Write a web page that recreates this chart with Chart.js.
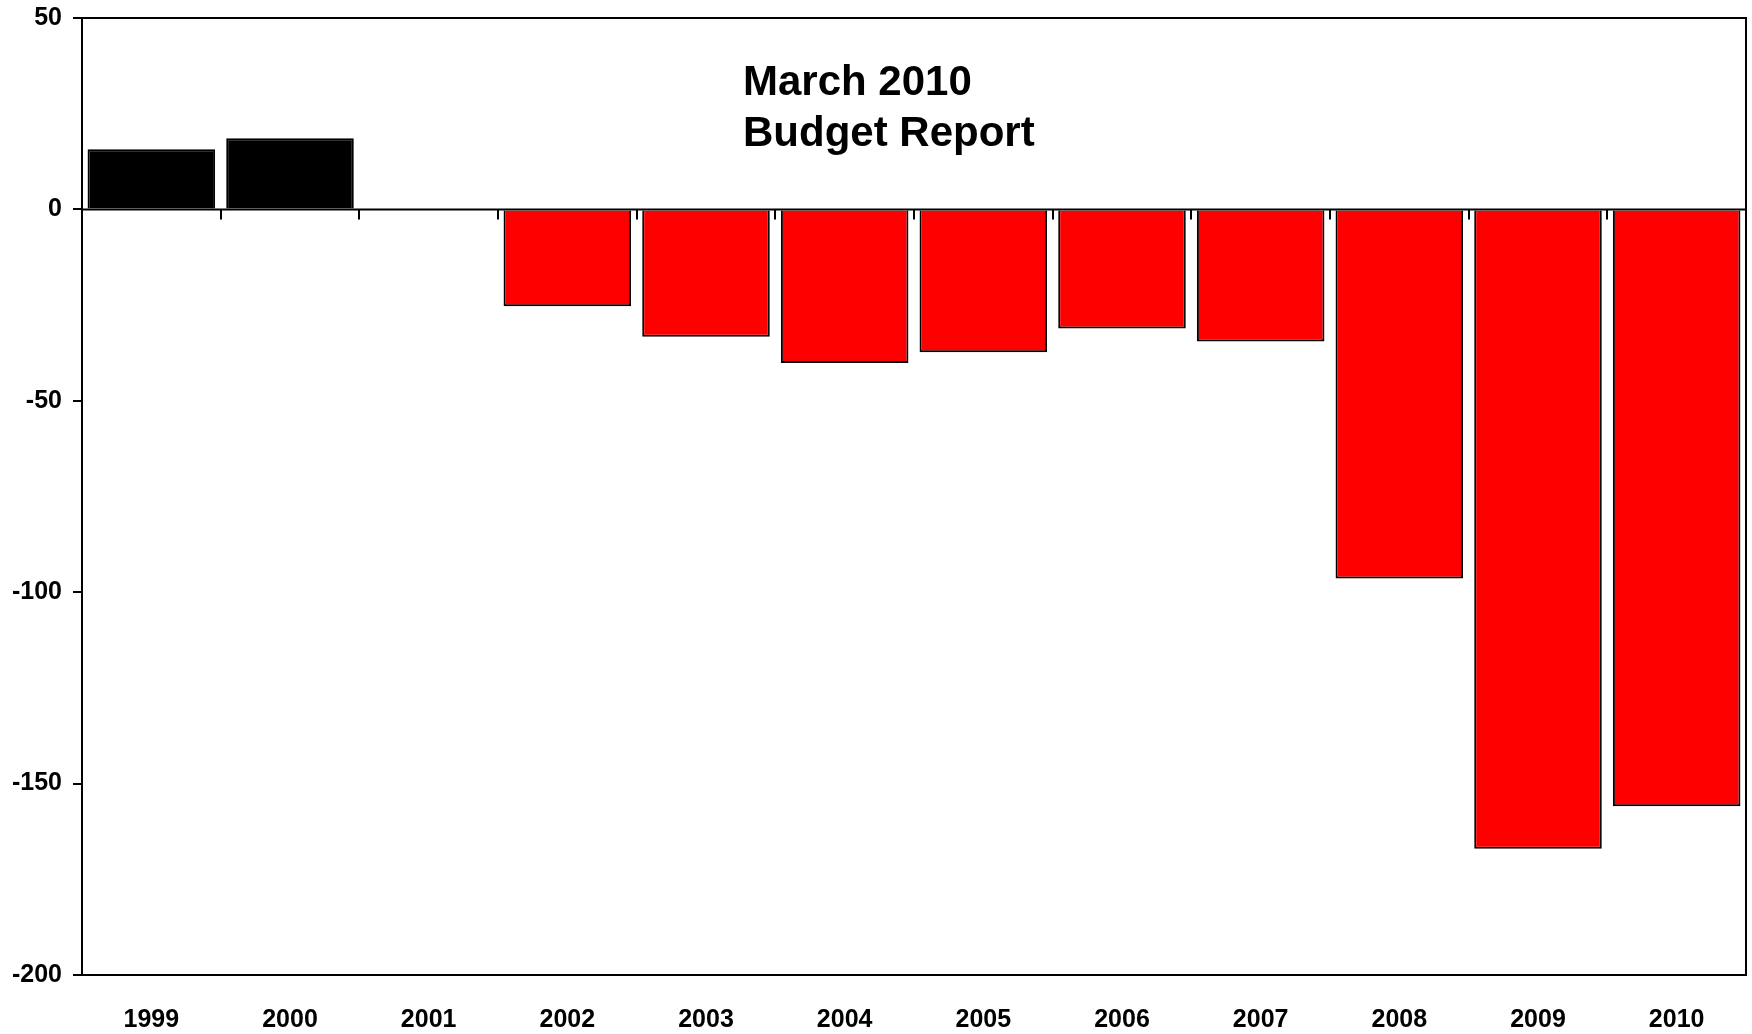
<!DOCTYPE html>
<html>
<head>
<meta charset="utf-8">
<title>March 2010 Budget Report</title>
<script src="https://cdn.jsdelivr.net/npm/chart.js@4"></script>
<style>
  html, body { margin: 0; padding: 0; background: #fff; }
  #budgetChart { display: block; }
</style>
</head>
<body>
<canvas id="budgetChart" width="1752" height="1034"></canvas>
<script>
// yearly budget balance
const years = ['1999', '2000', '2001', '2002', '2003', '2004', '2005', '2006', '2007', '2008', '2009', '2010'];
const balance = [15.7, 18.6, 0, -25.3, -33.3, -40.1, -37.3, -31.1, -34.5, -96.4, -167.0, -155.9];
const titleLines = ['March 2010', 'Budget Report'];
const yTicks = [50, 0, -50, -100, -150, -200];

const FONT = '"Liberation Sans", Arial, sans-serif';

// surplus years black, deficit years red
const barColors = balance.map(v => v >= 0 ? '#000000' : '#ff0000');

// frame, zero line with category ticks, and the title inside the plot
const frameAndTitle = {
    id: 'frameAndTitle',
    afterDatasetsDraw(chart) {
        const ctx = chart.ctx;
        const area = chart.chartArea;
        const x = chart.scales.x;
        const y = chart.scales.y;
        ctx.save();
        ctx.strokeStyle = '#000';
        ctx.lineWidth = 2;

        // top and right edges
        ctx.beginPath();
        ctx.moveTo(area.left, area.top);
        ctx.lineTo(area.right, area.top);
        ctx.lineTo(area.right, area.bottom);
        ctx.stroke();

        // zero line
        const y0 = y.getPixelForValue(0);
        ctx.beginPath();
        ctx.moveTo(area.left, y0);
        ctx.lineTo(area.right, y0);
        ctx.stroke();

        // small ticks between categories, hanging from the zero line
        ctx.beginPath();
        for (let i = 1; i < years.length; i++) {
            const bx = Math.round((x.getPixelForValue(i - 1) + x.getPixelForValue(i)) / 2);
            ctx.moveTo(bx, y0);
            ctx.lineTo(bx, y0 + 10);
        }
        ctx.stroke();

        // title
        ctx.fillStyle = '#000';
        ctx.font = 'bold 42px ' + FONT;
        ctx.textAlign = 'left';
        ctx.textBaseline = 'alphabetic';
        titleLines.forEach((line, i) => {
            ctx.fillText(line, 743, 95 + i * 51);
        });
        ctx.restore();
    }
};

const ctx = document.getElementById('budgetChart').getContext('2d');
const chart = new Chart(ctx, {
    type: 'bar',
    data: {
        labels: years,
        datasets: [{
            data: balance,
            backgroundColor: barColors,
            borderColor: '#000000',
            borderWidth: 2,
            barPercentage: 0.92,
            categoryPercentage: 1.0
        }]
    },
    options: {
        responsive: false,
        animation: false,
        layout: {
            padding: { top: 18, right: 6, left: 0, bottom: 0 }
        },
        plugins: {
            legend: { display: false },
            tooltip: { enabled: false }
        },
        scales: {
            x: {
                offset: true,
                grid: { display: false, drawTicks: false },
                border: { display: true, color: '#000', width: 2 },
                ticks: {
                    color: '#000',
                    font: { family: FONT, size: 25, weight: 'bold' },
                    padding: 30,
                    maxRotation: 0
                },
                afterFit(scale) { scale.height = 59; }
            },
            y: {
                min: -200,
                max: 50,
                afterBuildTicks(scale) {
                    scale.ticks = yTicks.map(v => ({ value: v }));
                },
                grid: {
                    drawOnChartArea: false,
                    drawTicks: true,
                    tickLength: 9,
                    color: '#000',
                    lineWidth: 2
                },
                border: { display: true, color: '#000', width: 2 },
                ticks: {
                    color: '#000',
                    font: { family: FONT, size: 25, weight: 'bold' },
                    padding: 11
                },
                afterFit(scale) {
                    scale.width = 82;
                    scale.paddingTop = 0;
                    scale.paddingBottom = 0;
                }
            }
        }
    },
    plugins: [frameAndTitle]
});
</script>
</body>
</html>
